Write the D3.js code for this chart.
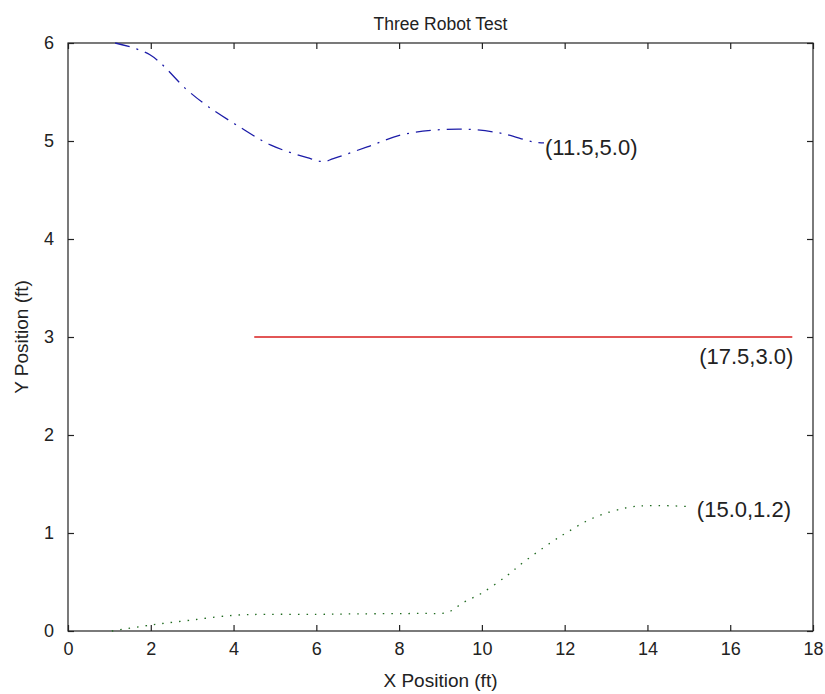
<!DOCTYPE html>
<html>
<head>
<meta charset="utf-8">
<script src="https://cdn.jsdelivr.net/npm/d3@7"></script>
<style>
  body { margin: 0; background: #fff; }
  svg { display: block; }
  text { font-family: "Liberation Sans", Arial, sans-serif; fill: #222; }
</style>
</head>
<body>
<svg id="chart" width="825" height="694"></svg>
<script>
// ---- data ----
const titleText = "Three Robot Test";
const xLabelText = "X Position (ft)";
const yLabelText = "Y Position (ft)";
const xTicks = [0, 2, 4, 6, 8, 10, 12, 14, 16, 18];
const yTicks = [0, 1, 2, 3, 4, 5, 6];

// Robot 1 (blue, dash-dot)
const robot1X = [1.14, 1.98, 2.88, 3.39, 4.16, 4.89, 5.78, 6.17, 6.41, 7.23, 8.03, 8.83, 9.65, 10.45, 11.25, 11.5];
const robot1Y = [6.0, 5.88, 5.52, 5.35, 5.14, 4.96, 4.83, 4.79, 4.82, 4.94, 5.06, 5.11, 5.12, 5.08, 4.99, 4.98];
// Robot 2 (red, solid)
const robot2X = [4.5, 17.5];
const robot2Y = [3.0, 3.0];
// Robot 3 (green, dotted)
const robot3X = [1.06, 1.98, 2.95, 4.0, 4.81, 6.0, 7.0, 8.51, 9.17, 9.55, 10.01, 10.62, 11.0, 11.66, 12.07, 12.67, 13.52, 14.15, 15.0];
const robot3Y = [0.0, 0.06, 0.11, 0.16, 0.17, 0.17, 0.175, 0.18, 0.19, 0.29, 0.39, 0.57, 0.70, 0.90, 1.01, 1.15, 1.26, 1.28, 1.27];

const endLabels = ["(11.5,5.0)", "(17.5,3.0)", "(15.0,1.2)"];

// ---- layout ----
const svg = d3.select("#chart");
const mLeft = 68, mRight = 813, mTop = 43, mBottom = 631;
const x = d3.scaleLinear().domain([0, 18]).range([mLeft, mRight]);
const y = d3.scaleLinear().domain([0, 6]).range([mBottom, mTop]);

const tickFont = 18, labelFont = 19, titleFont = 17.5, noteFont = 22;

// box
svg.append("rect")
  .attr("x", mLeft).attr("y", mTop)
  .attr("width", mRight - mLeft).attr("height", mBottom - mTop)
  .attr("fill", "none").attr("stroke", "#222").attr("stroke-width", 1.2);

// axes (ticks inside)
const tickLen = 6;
const gx = svg.append("g").attr("transform", `translate(0,${mBottom})`)
  .call(d3.axisBottom(x).tickValues(xTicks).tickSize(-tickLen).tickPadding(11).tickFormat(d3.format("d")));
const gxTop = svg.append("g").attr("transform", `translate(0,${mTop})`)
  .call(d3.axisTop(x).tickValues(xTicks).tickSize(-tickLen).tickFormat(""));
const gy = svg.append("g").attr("transform", `translate(${mLeft},0)`)
  .call(d3.axisLeft(y).tickValues(yTicks).tickSize(-tickLen).tickPadding(14).tickFormat(d3.format("d")));
const gyR = svg.append("g").attr("transform", `translate(${mRight},0)`)
  .call(d3.axisRight(y).tickValues(yTicks).tickSize(-tickLen).tickFormat(""));
[gx, gxTop, gy, gyR].forEach(g => {
  g.select(".domain").remove();
  g.selectAll(".tick line").attr("stroke", "#222").attr("stroke-width", 1.2);
  g.selectAll("text").attr("font-size", tickFont).attr("fill", "#222")
    .style("font-family", "'Liberation Sans', Arial, sans-serif");
});

// lines
const line = d3.line().x(d => x(d[0])).y(d => y(d[1])).curve(d3.curveCatmullRom.alpha(0.5));
const zip = (a, b) => a.map((v, i) => [v, b[i]]);

svg.append("path").datum(zip(robot1X, robot1Y)).attr("d", line)
  .attr("fill", "none").attr("stroke", "#1c1ca8").attr("stroke-width", 1.3)
  .attr("stroke-dasharray", "15,7,2,7");

svg.append("path").datum(zip(robot2X, robot2Y)).attr("d", d3.line().x(d => x(d[0])).y(d => y(d[1])))
  .attr("fill", "none").attr("stroke", "#d81e1e").attr("stroke-width", 1.5);

svg.append("path").datum(zip(robot3X, robot3Y)).attr("d", line)
  .attr("fill", "none").attr("stroke", "#1f6a1f").attr("stroke-width", 1.3)
  .attr("stroke-dasharray", "1.5,7");

// end labels
svg.append("text").attr("x", x(robot1X[robot1X.length - 1]) + 1).attr("y", y(robot1Y[robot1Y.length - 1]) + 4)
  .attr("dy", "0.35em").attr("font-size", noteFont).text(endLabels[0]);
svg.append("text").attr("x", x(robot2X[1]) + 1).attr("y", y(robot2Y[1]) + 19)
  .attr("dy", "0.35em").attr("text-anchor", "end").attr("font-size", noteFont).text(endLabels[1]);
svg.append("text").attr("x", x(robot3X[robot3X.length - 1]) + 8).attr("y", y(robot3Y[robot3Y.length - 1]) + 3)
  .attr("dy", "0.35em").attr("font-size", noteFont).text(endLabels[2]);

// title and axis labels
svg.append("text").attr("x", (mLeft + mRight) / 2).attr("y", 30)
  .attr("text-anchor", "middle").attr("font-size", titleFont).text(titleText);
svg.append("text").attr("x", (mLeft + mRight) / 2).attr("y", 687)
  .attr("text-anchor", "middle").attr("font-size", labelFont).text(xLabelText);
svg.append("text").attr("transform", `translate(28,${(mTop + mBottom) / 2}) rotate(-90)`)
  .attr("text-anchor", "middle").attr("font-size", labelFont).text(yLabelText);
</script>
</body>
</html>
